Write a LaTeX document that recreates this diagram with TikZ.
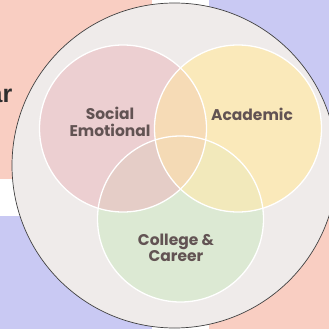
\documentclass[tikz,border=0pt]{standalone}
\usepackage{fontspec}
\setmainfont{Poppins}
\newfontfamily\sidefont{Liberation Sans}
\definecolor{salmon}{HTML}{F9CEC2}
\definecolor{lav}{HTML}{C9C9F3}
\definecolor{bgc}{HTML}{EFEBEA}
\definecolor{pinkc}{HTML}{ECCFD1}
\definecolor{yelc}{HTML}{FAE9BA}
\definecolor{grnc}{HTML}{DCE9D3}
\definecolor{peach}{HTML}{F6DBB6}
\definecolor{pgc}{HTML}{E5CDC7}
\definecolor{ygc}{HTML}{F2E9BB}
\definecolor{pygc}{HTML}{F4DAB5}
\definecolor{txtc}{HTML}{625353}
\tikzset{
  lbl/.style={text=txtc, font=\fontsize{15.5}{16.5}\selectfont\bfseries, align=center, inner sep=0pt},
  ring/.style={draw=white, line width=1.3pt},
}
\begin{document}
\begin{tikzpicture}[x=1pt,y=-1pt]
\useasboundingbox (0,0) rectangle (329,329);
\fill[white] (0,0) rectangle (329,329);
\fill[salmon] (0,0) rectangle (152,179);
\fill[lav] (209,0) rectangle (329,179);
\fill[lav] (0,216) rectangle (152,329);
\fill[salmon] (209,216) rectangle (329,329);
\node[anchor=base east, inner sep=0pt, text=black!82, font=\sidefont\bfseries\fontsize{25}{28}\selectfont] (side) at (12.5,102) {ar};
\fill[bgc, draw=black!75, line width=0.7pt] (174.5,165.5) circle (162.5);
% circles
\def\pc{(123,128.5) circle (83.5)}
\def\yc{(238,128.5) circle (83.5)}
\def\gc{(180.5,219) circle (83)}
\fill[grnc] \gc;
\fill[pinkc] \pc;
\fill[yelc] \yc;
\begin{scope}\clip \pc; \fill[peach] \yc; \fill[pgc] \gc; \end{scope}
\begin{scope}\clip \yc; \fill[ygc] \gc; \end{scope}
\begin{scope}\clip \pc; \clip \yc; \fill[pygc] \gc; \end{scope}
\draw[ring] \pc;
\draw[ring] \yc;
\draw[ring] \gc;
\node[lbl] (se) at (110,122) {Social\\Emotional};
\node[lbl] (ac) at (252,114) {Academic};
\node[lbl] (cc) at (176,248) {College \&\\Career};
\end{tikzpicture}
\end{document}
